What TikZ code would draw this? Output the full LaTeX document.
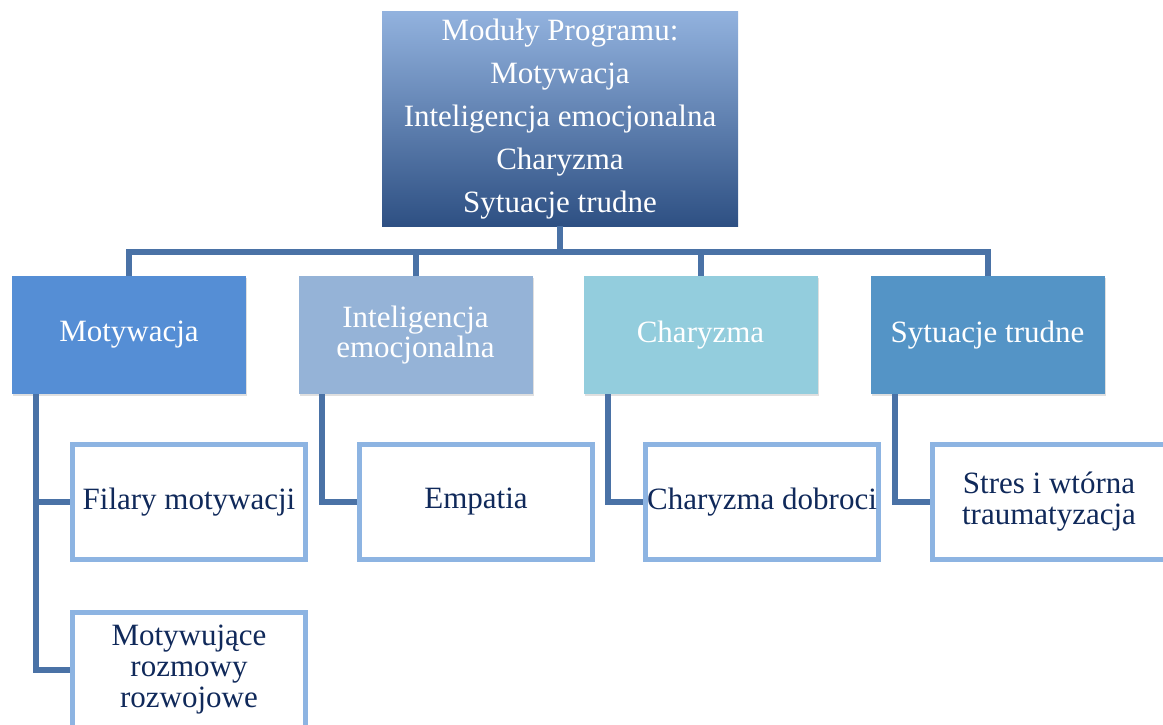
\documentclass[tikz,border=0pt]{standalone}
\usepackage{fontspec}
\setmainfont{Liberation Serif}
\usetikzlibrary{positioning,shadows}
\definecolor{topup}{HTML}{92B2DE}
\definecolor{topmid}{HTML}{5A86C4}
\definecolor{topdown}{HTML}{2E5083}
\definecolor{linkblue}{HTML}{4A72A6}
\definecolor{motblue}{HTML}{558ED5}
\definecolor{intblue}{HTML}{95B3D7}
\definecolor{chablue}{HTML}{93CDDD}
\definecolor{sytblue}{HTML}{5494C6}
\definecolor{frameblue}{HTML}{8DB4E2}
\definecolor{navy}{HTML}{10295A}

\begin{document}
\begin{tikzpicture}[x=1pt,y=-1pt]
        \tikzstyle{head}=[rectangle,minimum width=356pt,minimum height=214pt,inner sep=0pt,
          top color=topup,middle color=topmid,bottom color=topdown,text=white,align=center,
          font=\fontsize{31}{43}\selectfont]
        \tikzstyle{module}=[rectangle,minimum width=234pt,minimum height=118pt,inner sep=0pt,
          text=white,align=center,font=\fontsize{31}{30}\selectfont,
          drop shadow={opacity=0.25,shadow xshift=1pt,shadow yshift=-2pt}]
        \tikzstyle{topic}=[rectangle,draw=frameblue,line width=5pt,fill=white,
          minimum width=233pt,minimum height=115pt,inner sep=0pt,text=navy,align=center,
          font=\fontsize{31}{31}\selectfont]
        \tikzstyle{link}=[draw=linkblue,line width=6pt]
          \useasboundingbox (0,0) rectangle (1163,725);
          % main box
          \node (program) at (560,119) [head] {Moduły Programu:\\Motywacja\\Inteligencja emocjonalna\\Charyzma\\Sytuacje trudne};
          % modules
          \node (motyw) at (129,335) [module,fill=motblue] {Motywacja};
          \node (intel) at (415.5,335) [module,fill=intblue] {Inteligencja\\emocjonalna};
          \node (charyz) at (700.5,335) [module,fill=chablue] {Charyzma};
          \node (sytuac) at (987.5,335) [module,fill=sytblue] {Sytuacje trudne};
          % topics
          \node (filary) at (189,502) [topic] {Filary motywacji};
          \node (rozmowy) at (189,670) [topic] {Motywujące\\rozmowy\\rozwojowe};
          \node (empatia) at (476,502) [topic] {Empatia};
          \node (dobroci) at (762,502) [topic] {Charyzma dobroci};
          \node (stres) at (1049,502) [topic] {Stres i wtórna\\traumatyzacja};
          % connectors from the main box
          \draw [link] (program.south) -- ++(0,26) -| (motyw.north);
          \draw [link] (program.south) -- ++(0,26) -| (intel.north);
          \draw [link] (program.south) -- ++(0,26) -| (charyz.north);
          \draw [link] (program.south) -- ++(0,26) -| (sytuac.north);
          % connectors to the topics
          \draw [link] ([xshift=24pt]motyw.south west) |- (filary.west);
          \draw [link] ([xshift=24pt]motyw.south west) |- (rozmowy.west);
          \draw [link] ([xshift=24pt]intel.south west) |- (empatia.west);
          \draw [link] ([xshift=25pt]charyz.south west) |- (dobroci.west);
          \draw [link] ([xshift=25pt]sytuac.south west) |- (stres.west);
      \end{tikzpicture}
\end{document}
